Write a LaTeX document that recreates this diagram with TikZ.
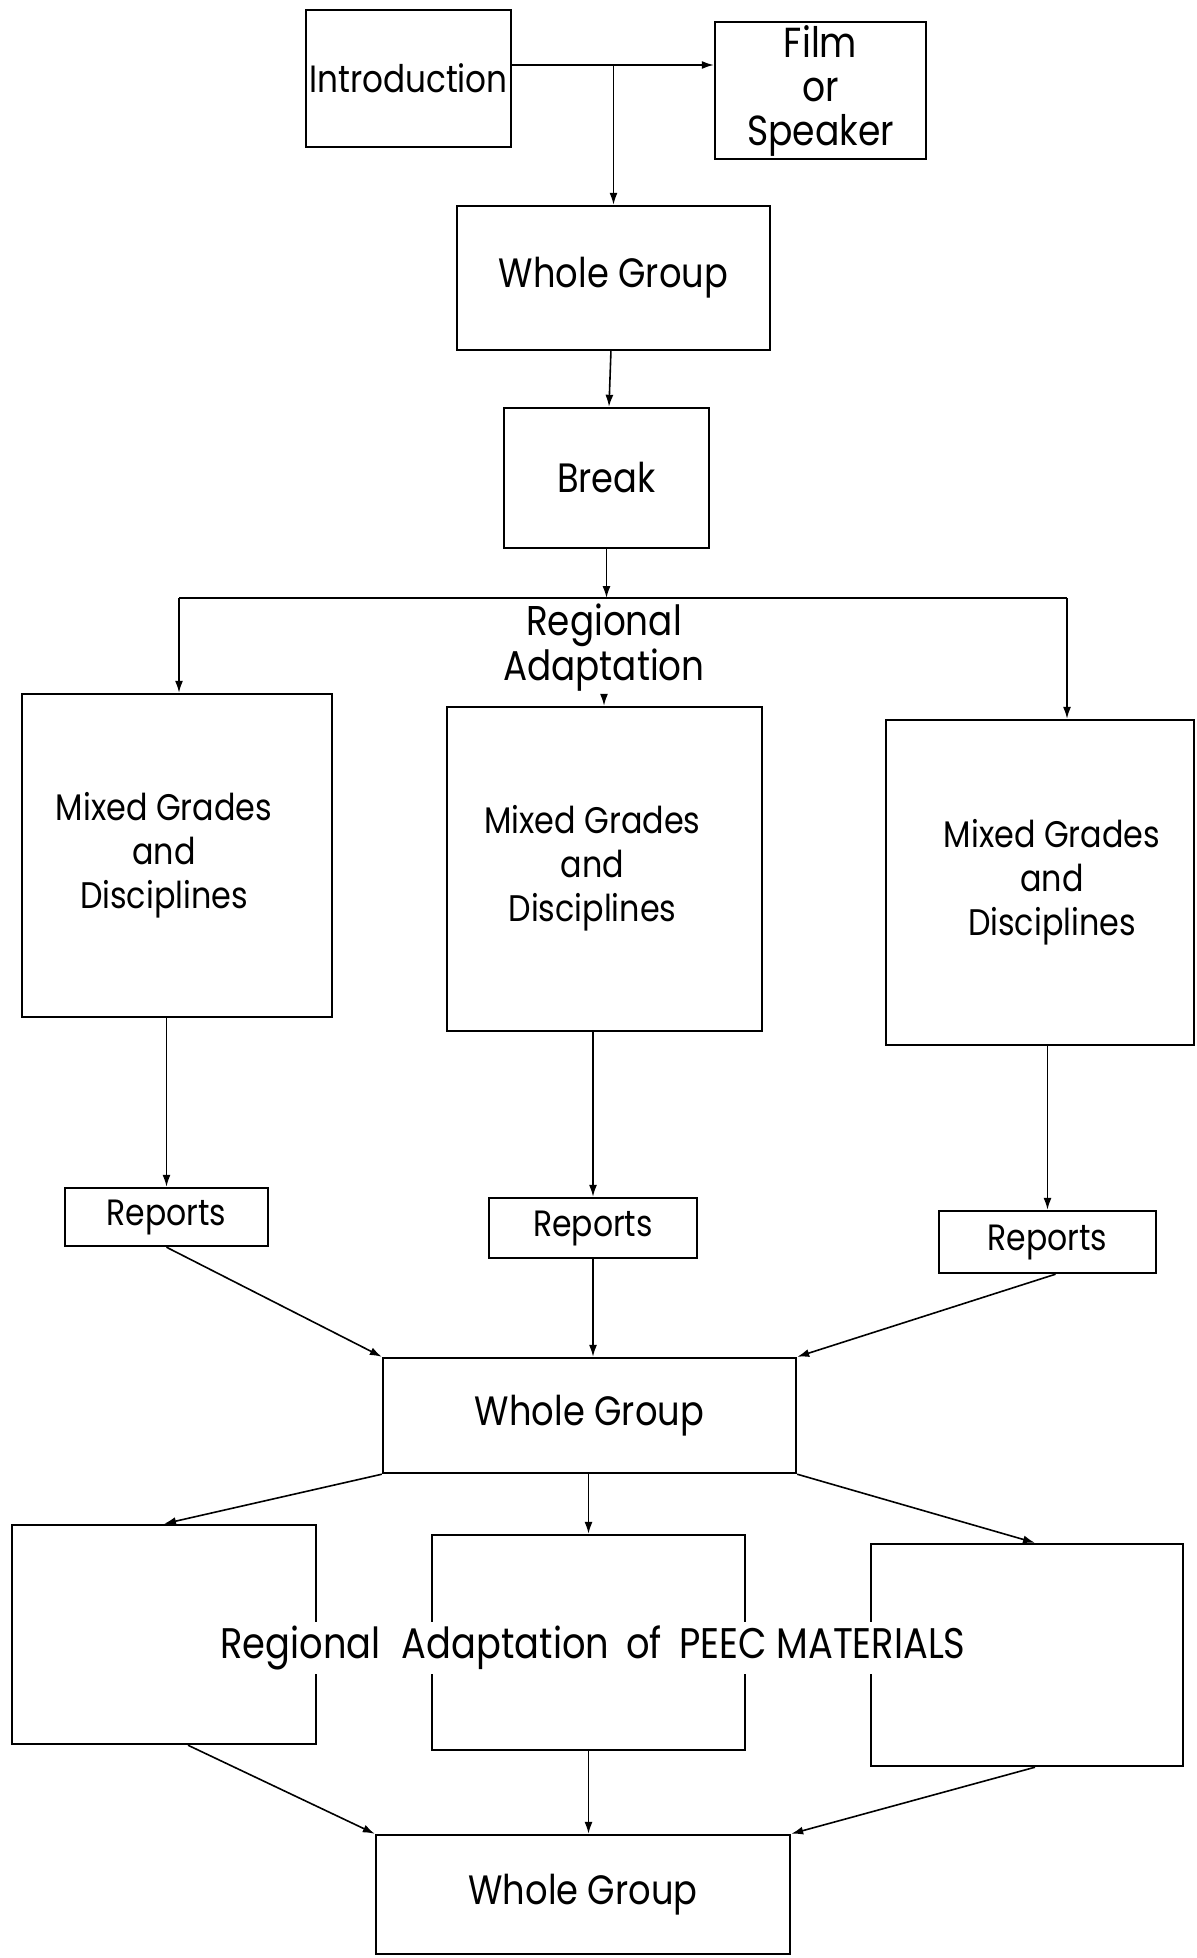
\documentclass[tikz,border=0pt]{standalone}
\usepackage{fontspec}
\setmainfont{Poppins}[FakeStretch=0.86]
\usetikzlibrary{arrows.meta}
\newcommand\mgtext{{\fontsize{18.5}{22}\selectfont\begin{tabular}{@{}c@{}}Mixed Grades\\and\\Disciplines\end{tabular}}}
\begin{document}
\begin{tikzpicture}[x=0.5pt,y=-0.5pt,
  box/.style={draw,line width=1.2pt,inner sep=0pt,align=center,font=\fontsize{20.5}{22}\selectfont},
  rbox/.style={box,font=\fontsize{18.3}{20}\selectfont},
  conn/.style={line width=0.8pt,-{Latex[length=6pt,width=4pt]}},
  plain/.style={line width=0.8pt},
  lbl/.style={inner sep=1pt,align=center,font=\fontsize{20.8}{22.5}\selectfont}]
\useasboundingbox (0,0) rectangle (1196,1958);
\fill[white] (0,0) rectangle (1196,1958);
% top row
\node[box,font=\fontsize{19}{22}\selectfont,minimum width=102.5pt,minimum height=68.5pt] (intro) at (408.5,78.5) {Introduction};
\node[box,font=\fontsize{21}{22}\selectfont,minimum width=105.5pt,minimum height=68.5pt] (film) at (820.5,90.5) {Film\\or\\Speaker};
\node[box,minimum width=156.5pt,minimum height=72pt] (wg1) at (613.5,278) {Whole Group};
\node[box,minimum width=102.5pt,minimum height=70pt] (brk) at (606.5,478) {Break};
\coordinate (split) at (613.5,65);
\draw[conn] (intro.east |- split) -- (film.west |- split);
\draw[conn] (split) -- (wg1.north);
\draw[conn] (wg1) -- (brk);
% regional adaptation split
\coordinate (hl) at (179,598);
\coordinate (hr) at (1067,598);
\coordinate (jn) at (606.5,598);
\node[lbl] (ra) at (604,648) {Regional\\Adaptation};
\node[box,minimum width=155pt,minimum height=161.5pt] (mg1) at (177,855.5) {\mgtext\hspace*{13pt}};
\node[box,minimum width=157.5pt,minimum height=162pt] (mg2) at (604.5,869) {\mgtext\hspace*{12pt}};
\node[box,minimum width=154pt,minimum height=162.5pt] (mg3) at (1040,882.5) {\hspace*{12pt}\mgtext};
\draw[conn] (brk.south) -- (jn);
\draw[plain] (hl) -- (hr);
\draw[conn] (hl) -- (hl |- mg1.north);
\draw[conn] (hr) -- (hr |- mg3.north);
\draw[conn] (ra.south) -- (ra.south |- mg2.north);
% reports
\node[rbox,minimum width=101.5pt,minimum height=29pt] (rp1) at (166.5,1217) {Reports};
\node[rbox,minimum width=104pt,minimum height=30pt] (rp2) at (593,1228) {Reports};
\node[rbox,minimum width=108.5pt,minimum height=31pt] (rp3) at (1047.5,1242) {Reports};
\draw[conn] (rp1.north |- mg1.south) -- (rp1.north);
\draw[conn] (rp2.north |- mg2.south) -- (rp2.north);
\draw[conn] (rp3.north |- mg3.south) -- (rp3.north);
% whole group 2
\node[box,minimum width=206.5pt,minimum height=57.5pt] (wg2) at (589.5,1415.5) {Whole Group};
\draw[conn] (rp1.south) -- (wg2.north west);
\draw[conn] (rp2.south) -- (rp2.south |- wg2.north);
\draw[conn] ([xshift=4pt]rp3.south) -- (wg2.north east);
% bottom boxes
\node[box,minimum width=152pt,minimum height=109.5pt] (b1) at (164,1634.5) {};
\node[box,minimum width=156.5pt,minimum height=107.5pt] (b2) at (588.5,1642.5) {};
\node[box,minimum width=156pt,minimum height=111pt] (b3) at (1027,1655) {};
\node[lbl,fill=white,inner sep=2pt,font=\fontsize{21.4}{22.5}\selectfont] (pe) at (593,1648) {Regional\hspace{0.5em}Adaptation\hspace{0.4em}of\hspace{0.4em}PEEC MATERIALS};
\draw[conn] (wg2.south west) -- (b1.north);
\draw[conn] (wg2.south -| b2.north) -- (b2.north);
\draw[conn] (wg2.south east) -- ([xshift=4pt]b3.north);
% final whole group
\node[box,minimum width=207pt,minimum height=59.5pt] (wg3) at (583,1894.5) {Whole Group};
\draw[conn] ([xshift=12pt]b1.south) -- (wg3.north west);
\draw[conn] (b2.south) -- (b2.south |- wg3.north);
\draw[conn] ([xshift=4pt]b3.south) -- (wg3.north east);
\end{tikzpicture}
\end{document}
